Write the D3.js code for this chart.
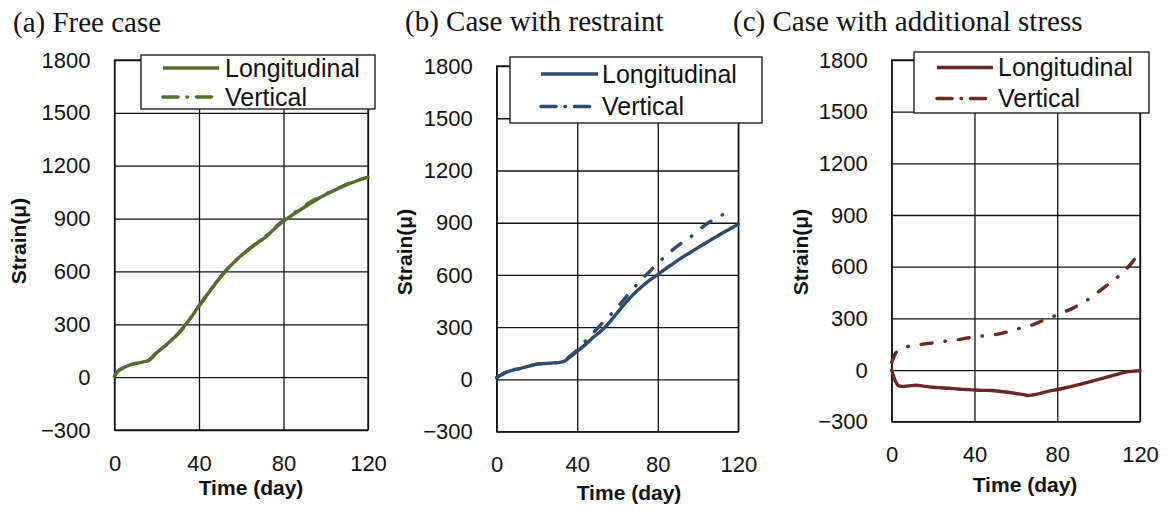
<!DOCTYPE html>
<html>
<head>
<meta charset="utf-8">
<script src="https://cdn.jsdelivr.net/npm/d3@7"></script>
<style>
  html, body { margin: 0; padding: 0; background: #fff; }
  svg { display: block; }
  .tick text { font-family: "Liberation Sans", Arial, sans-serif; font-size: 22px; fill: #111; }
  .tick line { stroke: #111; stroke-width: 1.3; }
</style>
</head>
<body>
<svg id="chart" width="1168" height="516"></svg>
<script>
// Axis ticks shared by all three panels
const yTicks = [-300, 0, 300, 600, 900, 1200, 1500, 1800];
const xTicks = [0, 40, 80, 120];
const seriesNames = ["Longitudinal", "Vertical"];

// (a) Free case — strain (μ) against time (day)
const freeDays = [0, 1, 2, 4, 6, 8, 10, 12, 14, 16, 20, 24, 28, 32, 36, 40, 44, 48, 52, 56, 60, 64, 68, 72, 76, 80, 84, 88, 92, 96, 100, 104, 108, 112, 116, 120];
const freeLong = [5, 25, 38, 52, 63, 72, 78, 82, 88, 95, 140, 178, 222, 272, 335, 405, 470, 535, 595, 645, 690, 728, 765, 800, 845, 885, 918, 950, 980, 1010, 1036, 1060, 1082, 1102, 1120, 1135];
const freeVert = [5, 24, 37, 51, 62, 71, 77, 82, 87, 94, 138, 176, 220, 270, 333, 403, 468, 533, 594, 646, 692, 731, 768, 805, 850, 890, 925, 958, 988, 1016, 1040, 1063, 1084, 1104, 1121, 1136];

// (b) Case with restraint
const restraintDays = [0, 2, 4, 6, 8, 12, 16, 20, 24, 28, 32, 34, 36, 40, 44, 48, 52, 56, 60, 64, 68, 72, 76, 80, 84, 88, 92, 96, 100, 104, 108, 112, 116, 120];
const restraintLong = [10, 25, 38, 46, 54, 64, 76, 88, 92, 95, 100, 108, 125, 162, 200, 242, 280, 328, 385, 440, 490, 532, 570, 602, 637, 668, 700, 728, 757, 785, 812, 840, 866, 892];
const restraintVertDays = [0, 2, 4, 6, 8, 12, 16, 20, 24, 28, 32, 34, 36, 40, 44, 48, 52, 56, 60, 64, 68, 72, 76, 80, 84, 88, 92, 96, 100, 104, 108, 112, 116];
const restraintVert = [10, 25, 38, 46, 54, 64, 76, 88, 92, 95, 100, 110, 130, 170, 220, 268, 318, 365, 415, 470, 525, 575, 620, 668, 710, 750, 785, 815, 855, 890, 920, 945, 970];

// (c) Case with additional stress
const stressDays = [0, 1, 2, 3, 5, 8, 12, 16, 20, 24, 28, 32, 36, 40, 44, 48, 52, 56, 60, 64, 66, 68, 72, 76, 80, 84, 88, 92, 96, 100, 104, 108, 112, 116, 120];
const stressLong = [0, -40, -70, -88, -95, -92, -88, -95, -100, -103, -106, -110, -113, -116, -118, -119, -123, -129, -136, -143, -148, -145, -135, -122, -113, -103, -92, -80, -67, -54, -41, -28, -15, -8, -4];
const stressVertDays = [0, 0.5, 2, 4, 8, 12, 16, 20, 24, 28, 32, 36, 40, 44, 48, 52, 56, 60, 64, 68, 72, 76, 80, 84, 88, 92, 96, 100, 104, 108, 112, 116, 120];
const stressVert = [45, 60, 100, 117, 138, 145, 152, 158, 165, 170, 176, 185, 192, 198, 203, 210, 222, 236, 250, 262, 282, 300, 320, 340, 362, 390, 418, 455, 492, 528, 570, 622, 690];

const zip = (xs, ys) => xs.map((d, i) => [d, ys[i]]);

// Panel layout
const panels = [
  {
    title: "(a) Free case", titleX: 13, titleY: 32,
    left: 114.5, right: 368, top: 60, bottom: 430,
    color: "#5a6c2d",
    long: zip(freeDays, freeLong), vert: zip(freeDays, freeVert),
    legend: { x: 141, y: 55, w: 234, h: 54, lx1: 163, lx2: 219, r1: 68, r2: 97, tx: 225 },
    yTitleX: 26, yTitleY: 241, xTitleX: 251, xTitleY: 495
  },
  {
    title: "(b) Case with restraint", titleX: 405, titleY: 31,
    left: 496.7, right: 738.3, top: 66, bottom: 431.7,
    color: "#2e4a6c",
    long: zip(restraintDays, restraintLong), vert: zip(restraintVertDays, restraintVert),
    legend: { x: 510, y: 57, w: 252, h: 66, lx1: 541, lx2: 598, r1: 74, r2: 106.5, tx: 602 },
    yTitleX: 412, yTitleY: 252, xTitleX: 629, xTitleY: 500
  },
  {
    title: "(c) Case with additional stress", titleX: 733, titleY: 31,
    left: 891.7, right: 1140, top: 60, bottom: 421.7,
    color: "#6a2828",
    long: zip(stressDays, stressLong), vert: zip(stressVertDays, stressVert),
    legend: { x: 914, y: 52, w: 235, h: 61, lx1: 937, lx2: 993, r1: 67.5, r2: 98.5, tx: 998 },
    yTitleX: 808, yTitleY: 252, xTitleX: 1025, xTitleY: 492
  }
];

const svg = d3.select("#chart");
const DASH_DOT = "11,13,0.5,13";

panels.forEach(p => {
  const x = d3.scaleLinear().domain([0, 120]).range([p.left, p.right]);
  const y = d3.scaleLinear().domain([-300, 1800]).range([p.bottom, p.top]);
  const w = p.right - p.left, h = p.bottom - p.top;
  const g = svg.append("g");

  // Title
  g.append("text")
    .attr("x", p.titleX).attr("y", p.titleY)
    .attr("font-family", "'Liberation Serif', 'Times New Roman', serif")
    .attr("font-size", 29).attr("fill", "#111")
    .text(p.title);

  // Horizontal gridlines + strain tick labels
  g.append("g")
    .attr("transform", `translate(${p.left},0)`)
    .call(d3.axisLeft(y).tickValues(yTicks).tickSize(-w).tickPadding(24).tickFormat(d3.format("d")))
    .call(a => a.select(".domain").remove());

  // Vertical gridlines + time tick labels
  g.append("g")
    .attr("transform", `translate(0,${p.bottom})`)
    .call(d3.axisBottom(x).tickValues(xTicks).tickSize(-h).tickPadding(25))
    .call(a => a.select(".domain").remove());

  // Plot frame
  g.append("rect")
    .attr("x", p.left).attr("y", p.top).attr("width", w).attr("height", h)
    .attr("fill", "none").attr("stroke", "#111").attr("stroke-width", 1.3);

  // Axis titles
  g.append("text")
    .attr("transform", `translate(${p.yTitleX},${p.yTitleY}) rotate(-90)`)
    .attr("text-anchor", "middle")
    .attr("font-family", "'Liberation Sans', Arial, sans-serif").attr("font-weight", 700)
    .attr("font-size", 21).attr("fill", "#111")
    .text("Strain(μ)");
  g.append("text")
    .attr("x", p.xTitleX).attr("y", p.xTitleY)
    .attr("text-anchor", "middle")
    .attr("font-family", "'Liberation Sans', Arial, sans-serif").attr("font-weight", 700)
    .attr("font-size", 21).attr("fill", "#111")
    .text("Time (day)");

  // Strain curves
  const line = d3.line().x(d => x(d[0])).y(d => y(d[1])).curve(d3.curveMonotoneX);
  g.append("path").datum(p.long).attr("d", line)
    .attr("fill", "none").attr("stroke", p.color).attr("stroke-width", 3.4)
    .attr("stroke-linejoin", "round").attr("stroke-linecap", "round");
  g.append("path").datum(p.vert).attr("d", line)
    .attr("fill", "none").attr("stroke", p.color).attr("stroke-width", 3.4)
    .attr("stroke-dasharray", DASH_DOT)
    .attr("stroke-linejoin", "round").attr("stroke-linecap", "round");

  // Legend
  const L = p.legend;
  const lg = g.append("g");
  lg.append("rect")
    .attr("x", L.x).attr("y", L.y).attr("width", L.w).attr("height", L.h)
    .attr("fill", "#fff").attr("stroke", "#111").attr("stroke-width", 1.3);
  [L.r1, L.r2].forEach((ry, i) => {
    lg.append("line")
      .attr("x1", L.lx1).attr("x2", L.lx2).attr("y1", ry).attr("y2", ry)
      .attr("stroke", p.color).attr("stroke-width", 3.6)
      .attr("stroke-linecap", i === 1 ? "round" : "butt")
      .attr("stroke-dasharray", i === 1 ? "15,9,0.5,9,15" : null);
    lg.append("text")
      .attr("x", L.tx).attr("y", ry + 8.5)
      .attr("font-family", "'Liberation Sans', Arial, sans-serif")
      .attr("font-size", 25).attr("fill", "#111")
      .text(seriesNames[i]);
  });
});
</script>
</body>
</html>
